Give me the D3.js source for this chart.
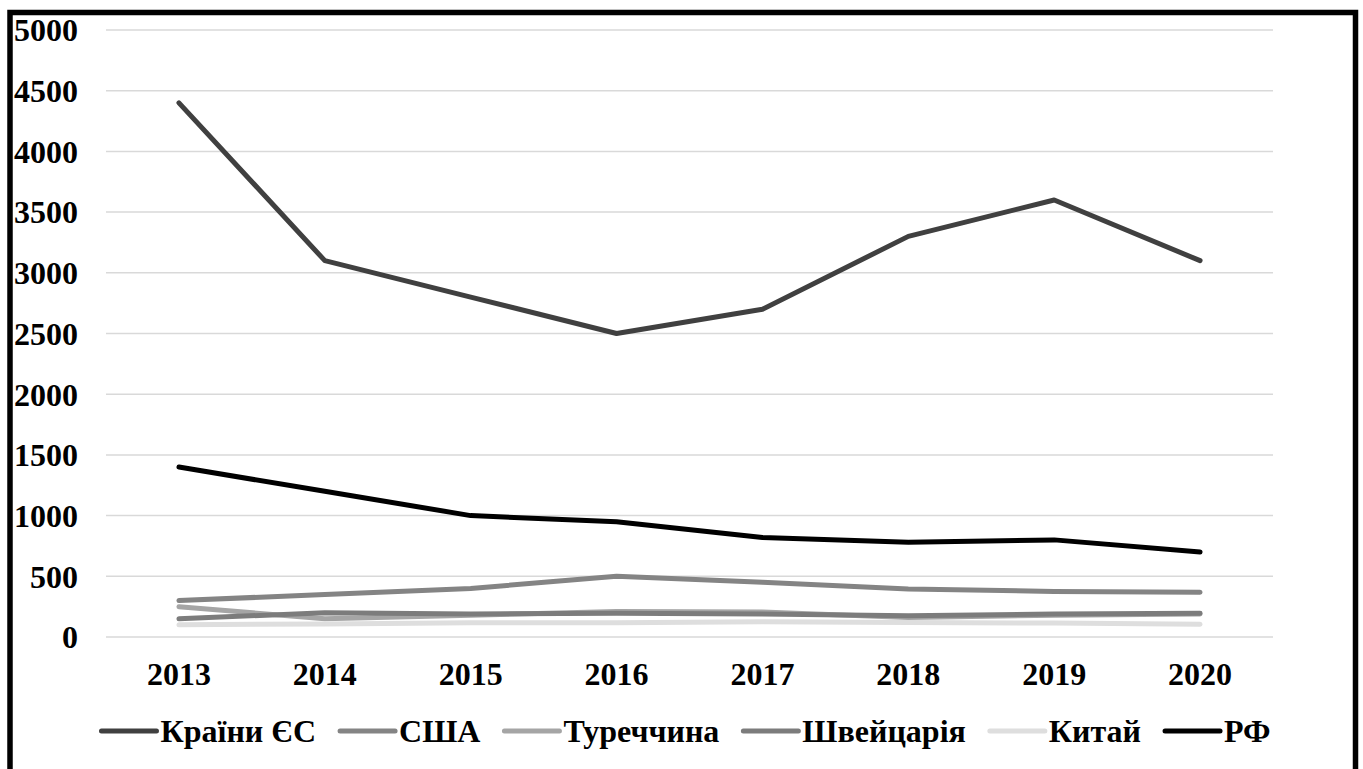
<!DOCTYPE html>
<html>
<head>
<meta charset="utf-8">
<script src="https://cdn.jsdelivr.net/npm/d3@7"></script>
<style>
  html, body { margin: 0; padding: 0; background: #fff; }
  svg { display: block; }
  text { font-family: "Liberation Serif", "Times New Roman", serif; font-weight: bold; fill: #000; }
</style>
</head>
<body>
<svg id="chart" width="1363" height="769"></svg>
<script>
const years = ["2013", "2014", "2015", "2016", "2017", "2018", "2019", "2020"];
const yTicks = [0, 500, 1000, 1500, 2000, 2500, 3000, 3500, 4000, 4500, 5000];
const seriesNames = ["Країни ЄС", "США", "Туреччина", "Швейцарія", "Китай", "РФ"];
const euValues = [4400, 3100, 2800, 2500, 2700, 3300, 3600, 3100];
const usaValues = [300, 350, 400, 500, 450, 395, 375, 368];
const turkeyValues = [250, 150, 180, 210, 205, 160, 180, 190];
const swissValues = [150, 200, 190, 195, 190, 175, 190, 195];
const chinaValues = [100, 108, 118, 118, 125, 120, 115, 105];
const rfValues = [1400, 1200, 1000, 950, 820, 780, 800, 700];
const seriesColors = ["#404040", "#848484", "#a5a5a5", "#7c7c7c", "#dedede", "#000000"];

const seriesValues = [euValues, usaValues, turkeyValues, swissValues, chinaValues, rfValues];
const series = seriesNames.map((name, i) => ({ name, values: seriesValues[i], color: seriesColors[i] }));

const svg = d3.select("#chart");

const x = d3.scaleBand().domain(years).range([106, 1273]).padding(0);
const y = d3.scaleLinear().domain([0, 5000]).range([637, 30]);

// gridlines
svg.append("g").selectAll("line").data(yTicks).join("line")
  .attr("x1", 106).attr("x2", 1273)
  .attr("y1", d => y(d)).attr("y2", d => y(d))
  .attr("stroke", "#d9d9d9").attr("stroke-width", 1.5);

// y-axis labels
const yAxis = d3.axisLeft(y).tickValues(yTicks).tickSize(0).tickPadding(0).tickFormat(d3.format("d"));
const yg = svg.append("g").attr("transform", "translate(78,0)").call(yAxis);
yg.select(".domain").remove();
yg.selectAll("text")
  .attr("font-family", "Liberation Serif").attr("font-weight", "bold")
  .attr("font-size", 32).attr("fill", "#000").attr("dy", "0.34em");

// x-axis labels
const xAxis = d3.axisBottom(x).tickSize(0).tickPadding(0);
const xg = svg.append("g").attr("transform", "translate(0,685)").call(xAxis);
xg.select(".domain").remove();
xg.selectAll("text")
  .attr("font-family", "Liberation Serif").attr("font-weight", "bold")
  .attr("font-size", 32).attr("fill", "#000").attr("dy", 0).attr("y", 0);

// lines
const line = d3.line()
  .x((d, i) => x(years[i]) + x.bandwidth() / 2)
  .y(d => y(d));

svg.append("g").selectAll("path").data(series).join("path")
  .attr("d", d => line(d.values))
  .attr("fill", "none")
  .attr("stroke", d => d.color)
  .attr("stroke-width", 5)
  .attr("stroke-linecap", "round")
  .attr("stroke-linejoin", "round");

// legend
const legend = svg.append("g");
const items = legend.selectAll("g").data(series).join("g");
items.append("line")
  .attr("x1", 0).attr("x2", 55).attr("y1", 0).attr("y2", 0)
  .attr("stroke", d => d.color).attr("stroke-width", 5).attr("stroke-linecap", "round");
items.append("text")
  .attr("x", 59).attr("y", 11)
  .attr("font-size", 32)
  .text(d => d.name);
let cx = 0;
items.each(function () {
  const g = d3.select(this);
  const w = g.select("text").node().getComputedTextLength();
  g.attr("transform", `translate(${cx},0)`);
  cx += 59 + w + 24;
});
const total = cx - 24;
legend.attr("transform", `translate(${686 - total / 2},731)`);

// frame
svg.append("rect")
  .attr("x", 10).attr("y", 12.5).attr("width", 1345.5).attr("height", 830)
  .attr("fill", "none").attr("stroke", "#000").attr("stroke-width", 5.5);
</script>
</body>
</html>
